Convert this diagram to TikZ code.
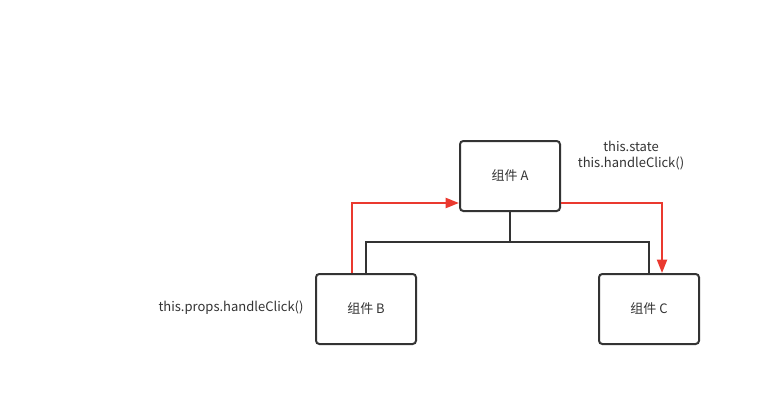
\documentclass[tikz,border=0pt]{standalone}
\usepackage{fontspec}
\setmainfont{Noto Sans CJK SC}
\usepackage{pgf,tikz}
\usetikzlibrary{shapes, arrows.meta, positioning}
\definecolor{linegray}{RGB}{51,51,51}
\definecolor{flowred}{RGB}{234,57,47}
\tikzstyle{comp} = [draw=linegray, line width=1.5pt, rectangle, rounded corners=2.5pt, minimum width=75pt, minimum height=52.5pt, font=\fontsize{9.75}{12}\selectfont, text=linegray]
\tikzstyle{tree} = [draw=linegray, line width=1.5pt]
\tikzstyle{flow} = [draw=flowred, line width=1.5pt, -{Triangle[length=10pt,width=7.5pt]}]
\tikzstyle{note} = [font=\fontsize{9.75}{12}\selectfont, text=linegray, inner sep=0pt, align=center]

\begin{document}
\begin{tikzpicture}[x=0.75pt, y=-0.75pt]
	\useasboundingbox (0,0) rectangle (773,406);
	\node [comp] (compA) at (510,176) {组件 A};
	\node [comp] (compB) at (366,309) {组件 B};
	\node [comp] (compC) at (649,309) {组件 C};
	\coordinate (joint) at (510,242);
	\draw [tree] (compA.south) -- (joint) -| (compB.north);
	\draw [tree] (joint) -| (compC.north);
	\draw [flow] ([xshift=-10.5pt]compB.north) |- ([yshift=-20.25pt]compA.west);
	\draw [flow] ([yshift=-20.25pt]compA.east) -| ([xshift=9.75pt]compC.north);
	\node [note] (stateA) at (631,156) {this.state\\this.handleClick()};
	\node [note] (propsB) at (231,308) {this.props.handleClick()};
\end{tikzpicture}
\end{document}
